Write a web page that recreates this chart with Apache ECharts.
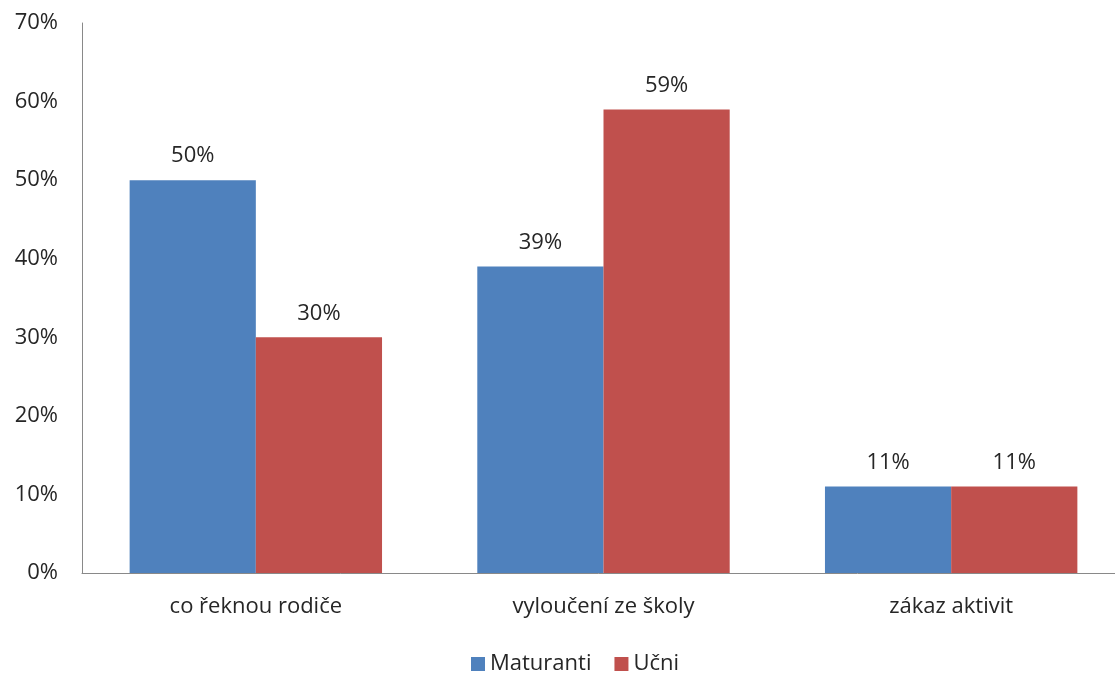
<!DOCTYPE html>
<html><head><meta charset="utf-8">
<script src="https://cdn.jsdelivr.net/npm/echarts@6/dist/echarts.min.js"></script>
<style>html,body{margin:0;padding:0;background:#fff}#c{width:1115px;height:674px}</style>
</head><body><div id="c"></div>
<script>
const categories = ["co řeknou rodiče", "vyloučení ze školy", "zákaz aktivit"];
const maturanti = [50, 39, 11];
const ucni = [30, 59, 11];
const yTicks = [0, 10, 20, 30, 40, 50, 60, 70];
const font = '"Open Sans", Lato, sans-serif';
const chart = echarts.init(document.getElementById('c'));
const lbl = {show:true, position:'top', distance:13, formatter: p => p.value + '%', fontFamily: font, fontSize: 22, color:'#262626'};
chart.setOption({
  animation:false,
  textStyle:{fontFamily:font},
  grid:{left:82, width:1043, top:23, height:550, containLabel:false, outerBoundsMode:'none'},
  legend:{top:648, left:466, itemWidth:14, itemHeight:14, itemGap:23, icon:'rect',
    textStyle:{fontFamily:font, fontSize:22, color:'#262626'}, data:['Maturanti','Učni']},
  xAxis:{type:'category', data:categories,
    axisLine:{lineStyle:{color:'#898989'}}, axisTick:{show:false},
    axisLabel:{fontFamily:font, fontSize:22, color:'#262626', margin:23}},
  yAxis:{type:'value', min:0, max:70, interval:10,
    axisLine:{show:true, lineStyle:{color:'#898989'}}, axisTick:{show:false}, splitLine:{show:false},
    axisLabel:{fontFamily:font, fontSize:22, color:'#262626', margin:24, formatter: v => yTicks.includes(v) ? v + '%' : ''}},
  series:[
    {name:'Maturanti', type:'bar', data:maturanti, barGap:'0%', barCategoryGap:'27.4%', itemStyle:{color:'#4F81BD'}, label:lbl},
    {name:'Učni', type:'bar', data:ucni, barGap:'0%', barCategoryGap:'27.4%', itemStyle:{color:'#C0504D'}, label:lbl}
  ]
});
</script></body></html>
